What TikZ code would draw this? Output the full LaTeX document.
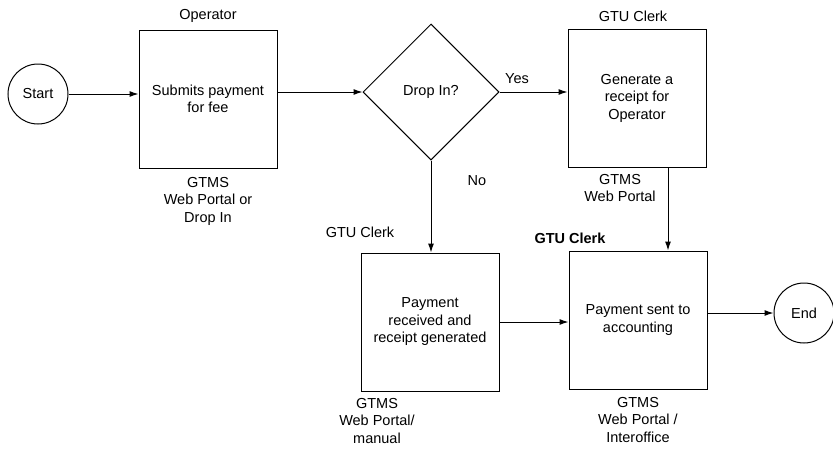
\documentclass[tikz,border=0pt]{standalone}
\usepackage{fontspec}
\setmainfont{Liberation Sans}
\usetikzlibrary{shapes.geometric,arrows.meta}

\begin{document}
\begin{tikzpicture}[x=1pt,y=-1pt,
  font=\fontsize{14.5}{17.5}\selectfont,
  box/.style={draw,line width=1pt,minimum width=138pt,minimum height=138pt,align=center,inner sep=2pt},
  term/.style={draw,circle,line width=1pt,minimum size=60pt,inner sep=0pt},
  decision/.style={draw,diamond,line width=1pt,minimum width=136pt,minimum height=136pt,inner sep=0pt},
  lbl/.style={align=center,inner sep=0pt},
  flow/.style={-{Latex[length=9pt,width=6pt]},line width=1pt}]
  \useasboundingbox (0,0) rectangle (833,448);

  % steps
  \node[term] (start) at (38,94) {Start};
  \node[box] (submit) at (208,99) {Submits payment\\for fee};
  \node[decision] (drop) at (431,92) {Drop In?};
  \node[box] (gen) at (637,98) {Generate a\\receipt for\\Operator};
  \node[box] (recv) at (430,322) {Payment\\received and\\receipt generated};
  \node[box] (acct) at (638,320) {Payment sent to\\accounting};
  \node[term] (end) at (804,313) {End};

  % who / system
  \node[lbl] (opTop) at (208,16) {Operator};
  \node[lbl] (genTop) at (633,16) {GTU Clerk};
  \node[lbl] (submitSys) at (208,201) {GTMS\\Web Portal or\\Drop In};
  \node[lbl] (genSys) at (620,188) {GTMS\\Web Portal};
  \node[lbl] (recvTop) at (360,232) {GTU Clerk};
  \node[lbl,font=\fontsize{14.5}{17.5}\selectfont\bfseries] (acctTop) at (570,238) {GTU Clerk};
  \node[lbl] (recvSys) at (377,421) {GTMS\\Web Portal/\\manual};
  \node[lbl] (acctSys) at (638,420) {GTMS\\Web Portal /\\Interoffice};
  \node[lbl] (yes) at (517,79) {Yes};
  \node[lbl] (no) at (477,181) {No};

  % connectors
  \draw[flow] (start) -- (start -| submit.west);
  \draw[flow] (submit.east |- drop.west) -- (drop.west);
  \draw[flow] (drop.east) -- (drop.east -| gen.west);
  \draw[flow] (drop.south) -- (drop.south |- recv.north);
  \draw[flow] ([xshift=31pt]gen.south) -- ([xshift=31pt]gen.south |- acct.north);
  \draw[flow] (recv.east) -- (recv.east -| acct.west);
  \draw[flow] (acct.east |- end.west) -- (end.west);
\end{tikzpicture}
\end{document}
